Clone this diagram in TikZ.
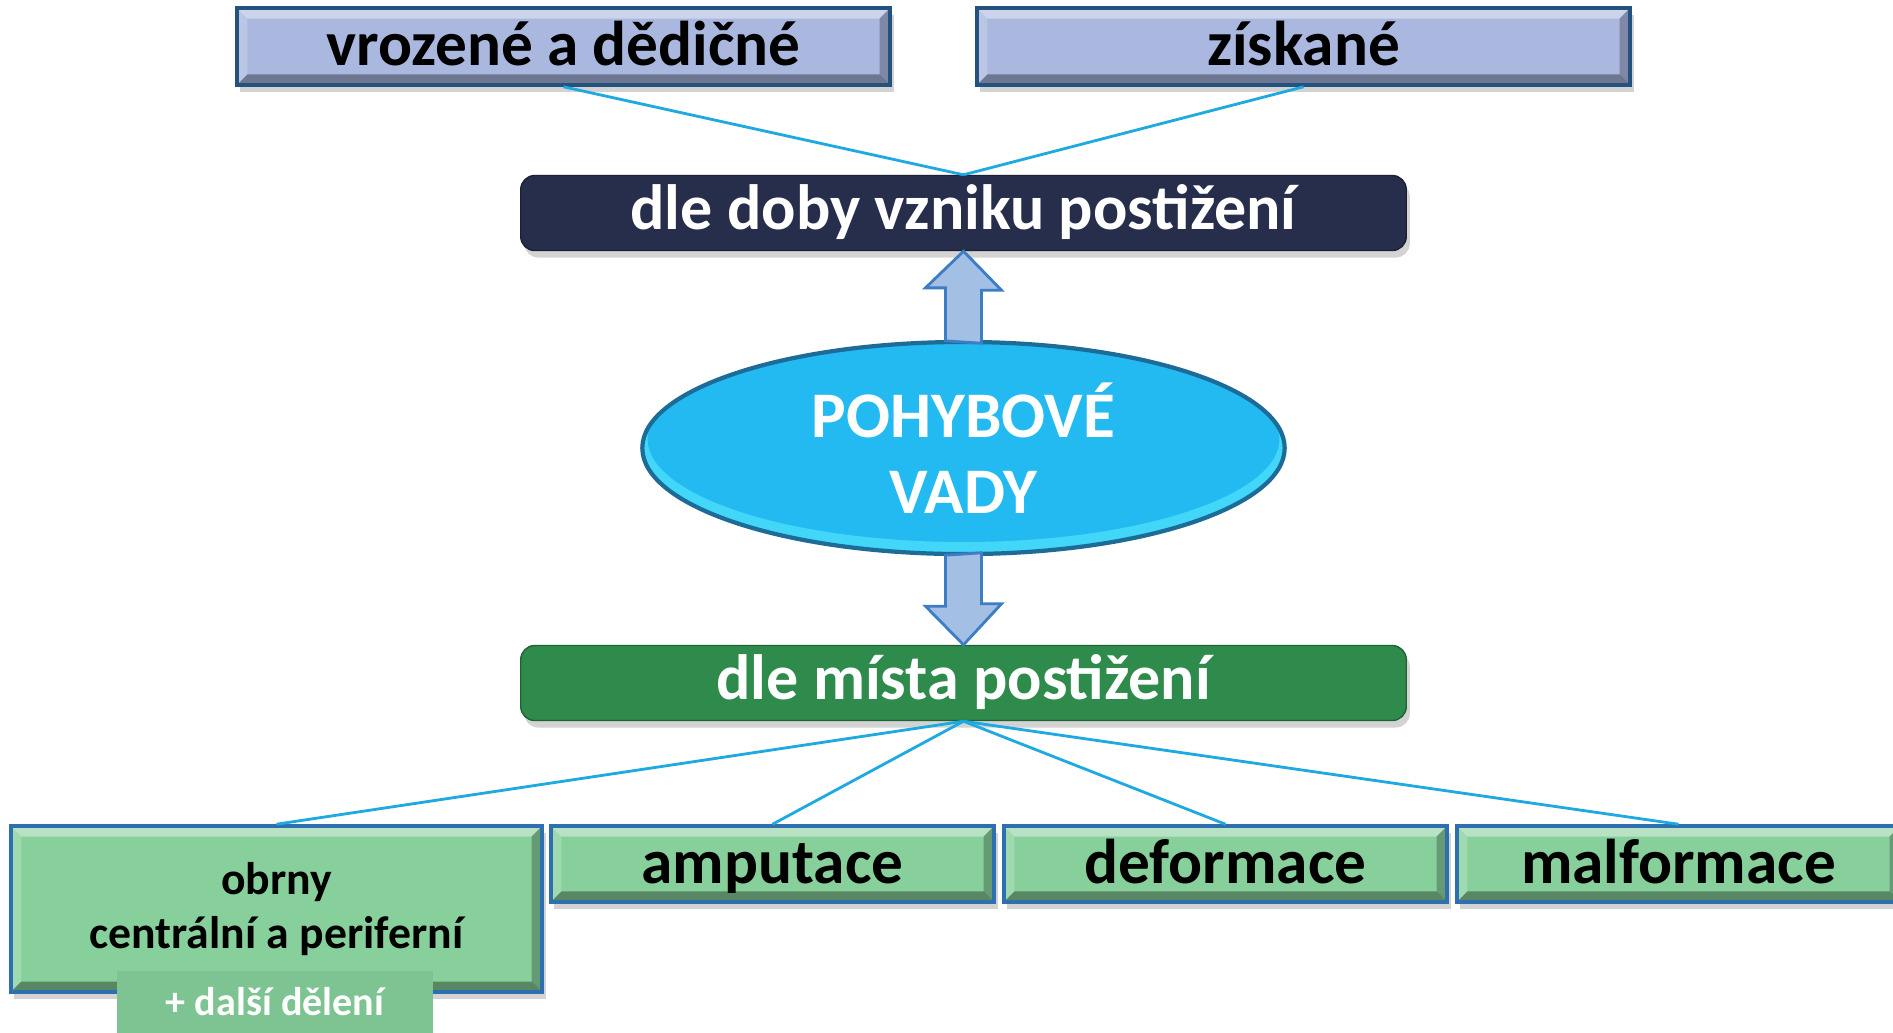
\documentclass[tikz,border=0pt]{standalone}
\usepackage{fontspec}
\setmainfont{Carlito}
\usetikzlibrary{shapes.geometric,shadows}

\definecolor{lavfill}{HTML}{AAB8DF}
\definecolor{lavline}{HTML}{24527E}
\definecolor{navyfill}{HTML}{262E4C}
\definecolor{greenfill}{HTML}{2E8B4B}
\definecolor{mintfill}{HTML}{88D09B}
\definecolor{mintline}{HTML}{2E6FB0}
\definecolor{paletext}{HTML}{7DC492}
\definecolor{skyfill}{HTML}{22BAF1}
\definecolor{skyline}{HTML}{1D6C98}
\definecolor{skyglow}{HTML}{5EEEFF}
\definecolor{arrowfill}{HTML}{A4BFE4}
\definecolor{arrowline}{HTML}{3C7DC4}
\definecolor{linkcol}{HTML}{1FA9E1}

\tikzset{
    bevel/.style={path picture={
        \fill[white,opacity=.4] (path picture bounding box.north west) -- (path picture bounding box.north east)
            -- ([xshift=-3pt,yshift=-3pt]path picture bounding box.north east) -- ([xshift=3pt,yshift=-3pt]path picture bounding box.north west) -- cycle;
        \fill[white,opacity=.2] (path picture bounding box.north west) -- (path picture bounding box.south west)
            -- ([xshift=3pt,yshift=3pt]path picture bounding box.south west) -- ([xshift=3pt,yshift=-3pt]path picture bounding box.north west) -- cycle;
        \fill[black,opacity=.35] (path picture bounding box.south west) -- (path picture bounding box.south east)
            -- ([xshift=-3pt,yshift=3pt]path picture bounding box.south east) -- ([xshift=3pt,yshift=3pt]path picture bounding box.south west) -- cycle;
        \fill[black,opacity=.25] (path picture bounding box.north east) -- (path picture bounding box.south east)
            -- ([xshift=-3pt,yshift=3pt]path picture bounding box.south east) -- ([xshift=-3pt,yshift=-3pt]path picture bounding box.north east) -- cycle;
    }},
    boxshadow/.style={drop shadow={shadow xshift=1pt, shadow yshift=-2pt, opacity=.35}},
    topbox/.style={rectangle, draw=lavline, line width=1pt, fill=lavfill, bevel, boxshadow,
        minimum width=6.53cm, minimum height=0.77cm, inner sep=0pt, text height=14.5pt, text depth=3.5pt,
        font=\fontsize{18}{21}\selectfont\bfseries},
    headbox/.style={rectangle, rounded corners=4pt, draw=#1!70!black, fill=#1, boxshadow, text=white,
        minimum width=8.85cm, minimum height=0.75cm, inner sep=0pt, text height=14pt, text depth=4.4pt,
        font=\fontsize{18.2}{21}\selectfont\bfseries},
    lowbox/.style={rectangle, draw=mintline, line width=1pt, fill=mintfill, bevel, boxshadow,
        minimum width=4.43cm, minimum height=0.76cm, inner sep=0pt, text height=14.5pt, text depth=3.5pt,
        font=\fontsize{18}{21}\selectfont\bfseries},
    link/.style={draw=linkcol, line width=0.8pt},
    fatarrow/.style={fill=arrowfill, draw=arrowline, line width=0.8pt, line join=miter}
}

\begin{document}
\begin{tikzpicture}[x=0.01cm, y=-0.01cm]
    \useasboundingbox (0,0) rectangle (1893,1032);

    \node[topbox] (born) at (563.5,46.5) {vrozené a dědičné};
    \node[topbox] (gained) at (1303.5,46.5) {získané};
    \node[headbox=navyfill] (time) at (963.5,213) {dle doby vzniku postižení};
    \node[headbox=greenfill] (place) at (963.5,683) {dle místa postižení};

    \draw[link] (born.south) -- (time.north);
    \draw[link] (gained.south) -- (time.north);

    \node[ellipse, minimum width=6.42cm, minimum height=2.12cm, inner sep=0pt,
        fill=skyfill, draw=skyline, line width=1.2pt, text=white, align=center,
        path picture={\fill[skyglow, opacity=.55, even odd rule] (path picture bounding box.center) ellipse (321 and 106)
            ([yshift=0.09cm]path picture bounding box.center) ellipse (316 and 103);},
        font=\fontsize{18.5}{21.6}\selectfont\bfseries] (core) at (963.5,448) {POHYBOVÉ\\VADY};

    \draw[fatarrow] (core.north) ++(-18,1) -- ++(0,-53) -- ++(-20,0) -- (time.south)
        -- ++(38,39) -- ++(-20,0) -- ++(0,53) -- cycle;
    \draw[fatarrow] (core.south) ++(-18,-1) -- ++(0,51) -- ++(-20,0) -- (place.north)
        -- ++(38,-41) -- ++(-20,0) -- ++(0,-51) -- cycle;

    \node[lowbox, minimum width=5.31cm, minimum height=1.66cm, align=center, text height=, text depth=,
        font=\fontsize{13}{15.4}\selectfont\bfseries] (palsy) at (276.5,909) {obrny\\centrální a periferní};
    \draw[link] (place.south) -- (palsy.north);
    \foreach \nm/\x/\txt in {amput/772.5/amputace, deform/1225.5/deformace, malform/1678.5/malformace} {
        \node[lowbox] (\nm) at (\x,864) {\txt};
        \draw[link] (place.south) -- (\nm.north);
    }

    \node[rectangle, fill=paletext, text=white, minimum width=3.16cm, minimum height=0.62cm, inner sep=0pt,
        font=\fontsize{11.4}{14}\selectfont\bfseries] (more) at (275,1002) {+ další dělení};
\end{tikzpicture}
\end{document}
